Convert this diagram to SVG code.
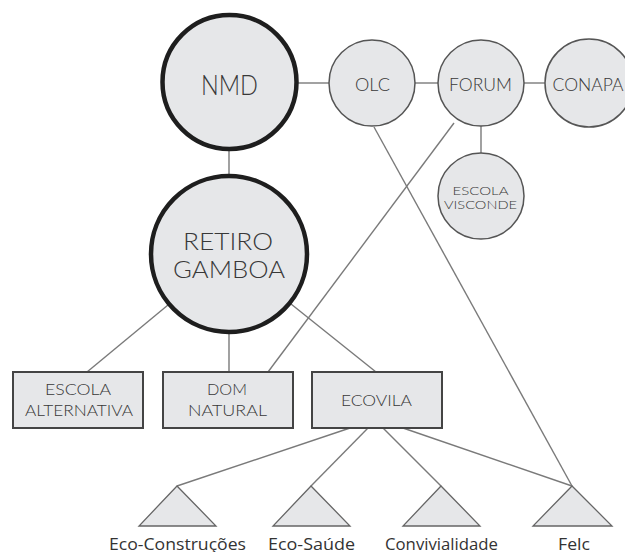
<svg xmlns="http://www.w3.org/2000/svg" width="625" height="552" viewBox="0 0 625 552">
<style>
.c{fill:#e6e7e9;stroke:#555;stroke-width:1.5}
.cb{fill:#e6e7e9;stroke:#1e1e1e;stroke-width:4.5}
.r{fill:#e6e7e9;stroke:#444;stroke-width:2}
.t{fill:#e6e7e9;stroke:#666;stroke-width:1.3}
.e{stroke:#7a7a7a;stroke-width:1.4;fill:none}
.n{font-family:Lato,"Liberation Sans",sans-serif;font-weight:300;fill:#383838;text-anchor:middle}
.l{font-family:"Open Sans","Noto Sans",sans-serif;fill:#333;text-anchor:middle;font-size:17px}
</style>
<rect width="625" height="552" fill="#ffffff"/>
<g id="connectors" class="e">
<line x1="298" y1="83" x2="329" y2="83"/>
<line x1="415" y1="83" x2="438" y2="83"/>
<line x1="524" y1="83" x2="545" y2="83"/>
<line x1="481" y1="126" x2="481" y2="153"/>
<line x1="229" y1="151" x2="229" y2="174"/>
<line x1="168" y1="305" x2="87" y2="372"/>
<line x1="229" y1="334" x2="229" y2="372"/>
<line x1="291" y1="304" x2="376" y2="372"/>
<line x1="454" y1="123" x2="268" y2="372"/>
<line x1="374" y1="127" x2="572" y2="486"/>
<line x1="350" y1="428" x2="177" y2="486"/>
<line x1="368" y1="428" x2="311" y2="486"/>
<line x1="383" y1="428" x2="441" y2="486"/>
<line x1="403" y1="428" x2="572" y2="486"/>
</g>
<g id="nmd"><circle class="cb" cx="229.5" cy="82" r="67"/><text class="n" x="229.5" y="95" font-size="28" textLength="57" lengthAdjust="spacingAndGlyphs">NMD</text></g>
<g id="olc"><circle class="c" cx="372" cy="83" r="43"/><text class="n" x="372.5" y="90.5" font-size="18" textLength="35" lengthAdjust="spacingAndGlyphs">OLC</text></g>
<g id="forum"><circle class="c" cx="481" cy="83" r="43"/><text class="n" x="480.5" y="90.5" font-size="18" textLength="63" lengthAdjust="spacingAndGlyphs">FORUM</text></g>
<g id="conapa"><circle class="c" cx="589" cy="83" r="44"/><text class="n" x="588" y="90.5" font-size="18" textLength="71" lengthAdjust="spacingAndGlyphs">CONAPA</text></g>
<g id="escola-visconde"><circle class="c" cx="481" cy="196" r="43"/><text class="n" x="480.5" y="194.5" font-size="12.5" textLength="56" lengthAdjust="spacingAndGlyphs">ESCOLA</text><text class="n" x="480.5" y="209" font-size="12.5" textLength="73" lengthAdjust="spacingAndGlyphs">VISCONDE</text></g>
<g id="retiro-gamboa"><circle class="cb" cx="229" cy="254" r="78"/><text class="n" x="228" y="250" font-size="24" textLength="90" lengthAdjust="spacingAndGlyphs">RETIRO</text><text class="n" x="229" y="278" font-size="24" textLength="112" lengthAdjust="spacingAndGlyphs">GAMBOA</text></g>
<g id="escola-alternativa"><rect class="r" x="13" y="372" width="130" height="56"/><text class="n" x="78" y="395" font-size="15" textLength="66" lengthAdjust="spacingAndGlyphs">ESCOLA</text><text class="n" x="79" y="416" font-size="15" textLength="108" lengthAdjust="spacingAndGlyphs">ALTERNATIVA</text></g>
<g id="dom-natural"><rect class="r" x="163" y="372" width="130" height="56"/><text class="n" x="227" y="395" font-size="15" textLength="40" lengthAdjust="spacingAndGlyphs">DOM</text><text class="n" x="227.5" y="416" font-size="15" textLength="79" lengthAdjust="spacingAndGlyphs">NATURAL</text></g>
<g id="ecovila"><rect class="r" x="312" y="372" width="130" height="56"/><text class="n" x="376.5" y="406" font-size="15" textLength="71" lengthAdjust="spacingAndGlyphs">ECOVILA</text></g>
<g id="eco-construcoes"><polygon class="t" points="177,486 139,526 216,526"/><text class="l" x="177.5" y="550" textLength="137" lengthAdjust="spacingAndGlyphs">Eco-Construções</text></g>
<g id="eco-saude"><polygon class="t" points="311,486 273,526 350,526"/><text class="l" x="311.5" y="550" textLength="87" lengthAdjust="spacingAndGlyphs">Eco-Saúde</text></g>
<g id="convivialidade"><polygon class="t" points="441,486 403,526 480,526"/><text class="l" x="441.5" y="550" textLength="113" lengthAdjust="spacingAndGlyphs">Convivialidade</text></g>
<g id="felc"><polygon class="t" points="572,486 533,526 612,526"/><text class="l" x="574" y="550" textLength="32" lengthAdjust="spacingAndGlyphs">Felc</text></g>
</svg>
